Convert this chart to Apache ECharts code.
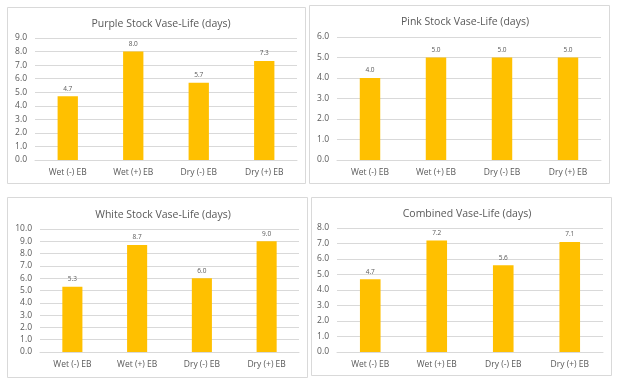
<!DOCTYPE html>
<html><head><meta charset="utf-8">
<script src="https://cdn.jsdelivr.net/npm/echarts@6/dist/echarts.min.js"></script>
<style>html,body{margin:0;padding:0;background:#fff}#c{width:626px;height:386px}</style>
</head><body><div id="c"></div>
<script>
const categories = ["Wet (-) EB", "Wet (+) EB", "Dry (-) EB", "Dry (+) EB"];
const titles = ["Purple Stock Vase-Life (days)", "Pink Stock Vase-Life (days)", "White Stock Vase-Life (days)", "Combined Vase-Life (days)"];
const purpleValues = [4.7, 8.0, 5.7, 7.3];
const pinkValues = [4.0, 5.0, 5.0, 5.0];
const whiteValues = [5.3, 8.7, 6.0, 9.0];
const combinedValues = [4.7, 7.2, 5.6, 7.1];
const yMax = [9, 6, 10, 8];

const seriesData = [purpleValues, pinkValues, whiteValues, combinedValues];
const grids = [
  {left: 35, right: 329, top: 38, bottom: 226},
  {left: 337, right: 25, top: 37, bottom: 226},
  {left: 40, right: 327, top: 229, bottom: 34},
  {left: 337, right: 23, top: 228, bottom: 34}
];
const titlePos = [[156, 14], [460, 12], [158, 205], [462, 204]];
const panels = [[7, 7, 298, 176], [309, 5, 300, 178], [7, 197, 300, 180], [311, 197, 300, 178]];
const font = "'Open Sans', 'Noto Sans', sans-serif";
const grey = '#595959';

const chart = echarts.init(document.getElementById('c'));
chart.setOption({
  animation: false,
  backgroundColor: '#fff',
  graphic: panels.map(p => ({
    type: 'rect', shape: {x: p[0] + 0.5, y: p[1] + 0.5, width: p[2], height: p[3]},
    style: {fill: 'none', stroke: '#d9d9d9', lineWidth: 1}, z: -10
  })),
  title: titles.map((t, i) => ({
    text: t, left: titlePos[i][0], top: titlePos[i][1], textAlign: 'center',
    textStyle: {fontFamily: font, fontSize: 10.5, fontWeight: 'normal', color: grey}
  })),
  grid: grids,
  xAxis: grids.map((g, i) => ({
    type: 'category', gridIndex: i, data: categories,
    axisLine: {lineStyle: {color: '#d9d9d9'}}, axisTick: {show: false},
    axisLabel: {fontFamily: font, fontSize: 8.5, color: grey, margin: 8}
  })),
  yAxis: grids.map((g, i) => ({
    type: 'value', gridIndex: i, min: 0, max: yMax[i], interval: 1,
    axisLine: {show: false}, axisTick: {show: false},
    splitLine: {lineStyle: {color: '#d9d9d9'}},
    axisLabel: {fontFamily: font, fontSize: 8.5, color: grey, margin: 8, formatter: v => v.toFixed(1)}
  })),
  series: seriesData.map((d, i) => ({
    type: 'bar', xAxisIndex: i, yAxisIndex: i, data: d, barWidth: '31%',
    itemStyle: {color: '#FFC000'},
    label: {show: true, position: 'top', distance: 4, fontFamily: font, fontSize: 6.5, color: grey, formatter: p => p.value.toFixed(1)}
  }))
});
</script></body></html>
